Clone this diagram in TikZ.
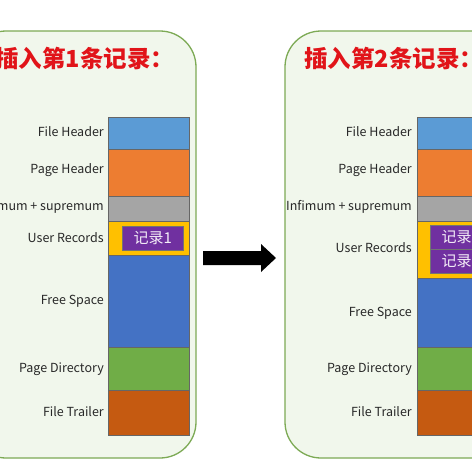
\documentclass[tikz,border=0pt]{standalone}
\usepackage{fontspec}
\setmainfont{Noto Sans CJK SC}
\definecolor{pnlfill}{RGB}{241,247,236}
\definecolor{pnlline}{RGB}{125,170,85}
\definecolor{cfh}{RGB}{91,155,213}
\definecolor{cph}{RGB}{237,125,49}
\definecolor{cinf}{RGB}{165,165,165}
\definecolor{cur}{RGB}{255,192,0}
\definecolor{cfs}{RGB}{68,114,196}
\definecolor{cpd}{RGB}{112,173,71}
\definecolor{cft}{RGB}{197,90,17}
\definecolor{crec}{RGB}{112,48,160}
\definecolor{ttl}{RGB}{225,20,25}
\definecolor{lbl}{RGB}{40,40,40}
\begin{document}
\begin{tikzpicture}[x=1pt,y=-1pt,
  panel/.style={draw=pnlline,line width=1.3pt,fill=pnlfill,rounded corners=36pt},
  blk/.style={draw=black!60,line width=0.7pt,inner sep=0pt,anchor=north west,minimum width=81pt},
  rec/.style={draw=black!55,line width=0.7pt,fill=crec,inner sep=0pt,anchor=north west,minimum width=61pt,minimum height=24pt,text=white!92!crec,font=\fontsize{15}{15}\selectfont},
  lab/.style={anchor=east,inner sep=0pt,text=lbl,font=\fontsize{12.5}{12.5}\selectfont},
  title/.style={anchor=west,inner sep=0pt,text=ttl,font=\fontsize{23.5}{23.5}\selectfont\bfseries}]
\useasboundingbox (0,0) rectangle (472,469);
\clip (0,0) rectangle (472,469);
\fill[white] (0,0) rectangle (472,469);
% panels
\draw[panel] (-30,31) rectangle (196,458);
\draw[panel] (285,31) rectangle (520,458);
% titles
\node[title] (t1) at (-5,59) {插入第1条记录：};
\node[title] (t2) at (304,59) {插入第2条记录：};
% left stack
\node[blk,fill=cfh,minimum height=32pt] (lfh) at (108,117) {};
\node[blk,fill=cph,minimum height=47pt] (lph) at (108,149) {};
\node[blk,fill=cinf,minimum height=25pt] (linf) at (108,196) {};
\node[blk,fill=cur,minimum height=34pt] (lur) at (108,221) {};
\node[blk,fill=cfs,minimum height=92pt] (lfs) at (108,255) {};
\node[blk,fill=cpd,minimum height=43pt] (lpd) at (108,347) {};
\node[blk,fill=cft,minimum height=45pt] (lft) at (108,390) {};
\node[rec] (lr1) at (122,226) {记录1};
% right stack
\node[blk,fill=cfh,minimum height=32pt] (rfh) at (417,117) {};
\node[blk,fill=cph,minimum height=47pt] (rph) at (417,149) {};
\node[blk,fill=cinf,minimum height=25pt] (rinf) at (417,196) {};
\node[blk,fill=cur,minimum height=57pt] (rur) at (417,221) {};
\node[blk,fill=cfs,minimum height=69pt] (rfs) at (417,278) {};
\node[blk,fill=cpd,minimum height=43pt] (rpd) at (417,347) {};
\node[blk,fill=cft,minimum height=45pt] (rft) at (417,390) {};
\node[rec] (rr1) at (430,225) {记录1};
\node[rec] (rr2) at (430,249) {记录2};
% left labels
\node[lab] (ll1) at (104,132) {File Header};
\node[lab] (ll2) at (104,170) {Page Header};
\node[lab] (ll3) at (104,207) {Infimum + supremum};
\node[lab] (ll4) at (104,238) {User Records};
\node[lab] (ll5) at (104,301) {Free Space};
\node[lab] (ll6) at (104,369) {Page Directory};
\node[lab] (ll7) at (104,412) {File Trailer};
% right labels
\node[lab] (rl1) at (412,132) {File Header};
\node[lab] (rl2) at (412,170) {Page Header};
\node[lab] (rl3) at (412,207) {Infimum + supremum};
\node[lab] (rl4) at (412,248) {User Records};
\node[lab] (rl5) at (412,313) {Free Space};
\node[lab] (rl6) at (412,369) {Page Directory};
\node[lab] (rl7) at (412,412) {File Trailer};
% arrow
\fill[black] (203,251) -- (261,251) -- (261,244) -- (276,258) -- (261,272) -- (261,265) -- (203,265) -- cycle;
\end{tikzpicture}
\end{document}
